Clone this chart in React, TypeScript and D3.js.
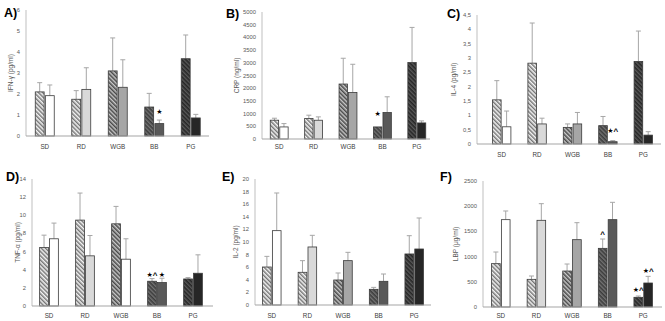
import React from 'react';
import * as d3 from 'd3';

const categories = ['SD', 'RD', 'WGB', 'BB', 'PG'];

// A) IFN-γ
const ifnHatch = [2.1, 1.75, 3.1, 1.38, 3.68];
const ifnHatchSd = [0.44, 0.41, 1.57, 0.65, 1.13];
const ifnSolid = [1.92, 2.22, 2.32, 0.59, 0.86];
const ifnSolidSd = [0.51, 1.03, 1.31, 0.17, 0.17];

// B) CRP
const crpHatch = [740, 805, 2164, 475, 3008];
const crpHatchSd = [78, 132, 1015, 0, 1385];
const crpSolid = [475, 739, 1834, 1042, 633];
const crpSolidSd = [132, 132, 1108, 620, 79];

// C) IL-4
const il4Hatch = [1.54, 2.82, 0.58, 0.64, 2.88];
const il4HatchSd = [0.67, 1.4, 0.12, 0.32, 1.06];
const il4Solid = [0.6, 0.7, 0.7, 0.08, 0.31];
const il4SolidSd = [0.55, 0.2, 0.4, 0.04, 0.12];

// D) TNF-α
const tnfHatch = [6.45, 9.47, 9.06, 2.73, 2.98];
const tnfHatchSd = [1.36, 2.98, 1.92, 0.29, 0.15];
const tnfSolid = [7.41, 5.53, 5.16, 2.58, 3.61];
const tnfSolidSd = [1.73, 2.24, 2.25, 0.48, 2.03];

// E) IL-2
const il2Hatch = [6.03, 5.19, 3.97, 2.49, 8.1];
const il2HatchSd = [1.69, 1.85, 1.11, 0.31, 2.9];
const il2Solid = [11.8, 9.21, 7.04, 3.76, 8.89];
const il2SolidSd = [5.98, 1.85, 1.32, 1.16, 4.92];

// F) LBP
const lbpHatch = [860, 549, 714, 1164, 192];
const lbpHatchSd = [231, 66, 139, 185, 26];
const lbpSolid = [1733, 1720, 1336, 1733, 476];
const lbpSolidSd = [172, 330, 337, 344, 132];

// significance marks: [category, series (0 hatched / 1 solid), stars, carets, y value]
const ifnMarks: [string, number, string, string, number][] = [['BB', 1, '★', '', 1.32]];
const crpMarks: [string, number, string, string, number][] = [['BB', 0, '★', '', 1135]];
const il4Marks: [string, number, string, string, number][] = [['BB', 1, '★', '^', 0.58]];
const tnfMarks: [string, number, string, string, number][] = [['BB', 0, '★', '^', 3.8], ['BB', 1, '★', '', 3.8]];
const il2Marks: [string, number, string, string, number][] = [];
const lbpMarks: [string, number, string, string, number][] = [['BB', 0, '', '^', 1420], ['PG', 0, '★', '^', 410], ['PG', 1, '★', '^', 794]];

const hatchIds = ['hLight', 'hLight', 'hMed', 'hDark', 'hDarkest'];
const solidFill = ['#ffffff', '#d9d9d9', '#a6a6a6', '#595959', '#262626'];
const solidFillTnf = ['#ffffff', '#d9d9d9', '#ffffff', '#595959', '#262626'];

const FONT = '"Liberation Sans", Arial, sans-serif';

const panels = [
  { tag: 'A)', tagX: 4, tagY: 17, yLabel: 'IFN-γ (pg/ml)', labX: 13, max: 6, step: 1, comma: false,
    axisX: 26, axisEnd: 209, band: [26.5, 209], yTop: 10, yZero: 136, catY: 147,
    hatch: ifnHatch, hatchSd: ifnHatchSd, solid: ifnSolid, solidSd: ifnSolidSd, fills: solidFill, marks: ifnMarks },
  { tag: 'B)', tagX: 226, tagY: 18, yLabel: 'CRP (ng/ml)', labX: 239, max: 5000, step: 500, comma: false,
    axisX: 262, axisEnd: 430, band: [262, 434], yTop: 12, yZero: 139, catY: 147,
    hatch: crpHatch, hatchSd: crpHatchSd, solid: crpSolid, solidSd: crpSolidSd, fills: solidFill, marks: crpMarks },
  { tag: 'C)', tagX: 447, tagY: 18, yLabel: 'IL-4 (pg/ml)', labX: 456, max: 4.5, step: 0.5, comma: true,
    axisX: 477, axisEnd: 661, band: [484, 661], yTop: 15, yZero: 144, catY: 155,
    hatch: il4Hatch, hatchSd: il4HatchSd, solid: il4Solid, solidSd: il4SolidSd, fills: solidFill, marks: il4Marks },
  { tag: 'D)', tagX: 6, tagY: 181, yLabel: 'TNF-α (pg/ml)', labX: 20, max: 14, step: 2, comma: false,
    axisX: 32, axisEnd: 213, band: [31, 211], yTop: 179, yZero: 306, catY: 316,
    hatch: tnfHatch, hatchSd: tnfHatchSd, solid: tnfSolid, solidSd: tnfSolidSd, fills: solidFillTnf, marks: tnfMarks },
  { tag: 'E)', tagX: 222, tagY: 181, yLabel: 'IL-2 (pg/ml)', labX: 238, max: 20, step: 2, comma: false,
    axisX: 255, axisEnd: 431, band: [254, 432], yTop: 179, yZero: 305, catY: 316,
    hatch: il2Hatch, hatchSd: il2HatchSd, solid: il2Solid, solidSd: il2SolidSd, fills: solidFill, marks: il2Marks },
  { tag: 'F)', tagX: 440, tagY: 181, yLabel: 'LBP (μg/ml)', labX: 458, max: 2500, step: 500, comma: false,
    axisX: 483, axisEnd: 662, band: [483, 661], yTop: 181, yZero: 307, catY: 316,
    hatch: lbpHatch, hatchSd: lbpHatchSd, solid: lbpSolid, solidSd: lbpSolidSd, fills: solidFill, marks: lbpMarks },
];

function Panel({ p }: { p: any }) {
  const x = d3.scaleBand().domain(categories).range(p.band);
  const pairW = x.bandwidth() * 0.52;
  const inner = d3.scaleBand().domain(['0', '1']).range([-pairW / 2, pairW / 2]).paddingInner(0.12);
  const y = d3.scaleLinear().domain([0, p.max]).range([p.yZero, p.yTop]);
  const ticks = d3.range(0, p.max + p.step / 2, p.step);
  const fmt = (v: number) => {
    const s = d3.format('~g')(+v.toFixed(2));
    return p.comma ? s.replace('.', ',') : s;
  };
  const cx = (c: string) => (x(c) as number) + x.bandwidth() / 2;
  const barX = (c: string, s: number) => cx(c) + (inner(String(s)) as number);
  const bw = inner.bandwidth();
  const midY = (p.yZero + p.yTop) / 2;

  const bars: any[] = [];
  categories.forEach((c, i) => {
    [0, 1].forEach((s) => {
      const v = s === 0 ? p.hatch[i] : p.solid[i];
      const sd = s === 0 ? p.hatchSd[i] : p.solidSd[i];
      const bx = barX(c, s);
      const fill = s === 0 ? `url(#${hatchIds[i]})` : p.fills[i];
      const ex = bx + bw / 2;
      bars.push(
        <g key={c + s}>
          {sd > 0 && (
            <g stroke="#a6a6a6" strokeWidth={1}>
              <line x1={ex} x2={ex} y1={y(v)} y2={y(v + sd)} />
              <line x1={ex - 2.5} x2={ex + 2.5} y1={y(v + sd)} y2={y(v + sd)} />
            </g>
          )}
          <rect x={bx} y={y(v)} width={bw} height={p.yZero - y(v)} fill={fill} stroke="#3a3a3a" strokeWidth={0.8} />
        </g>
      );
    });
  });

  return (
    <g fontFamily={FONT}>
      <text x={p.tagX} y={p.tagY} fontSize={12.5} fontWeight="bold" fill="#000">{p.tag}</text>
      <text transform={`translate(${p.labX},${midY}) rotate(-90)`} textAnchor="middle" fontSize={6.5} fill="#595959">
        {p.yLabel}
      </text>
      {ticks.map((t: number) => (
        <text key={t} x={p.axisX - 6} y={y(t)} dy="0.35em" textAnchor="end" fontSize={5.8} fill="#595959">
          {fmt(t)}
        </text>
      ))}
      <line x1={p.axisX} x2={p.axisX} y1={p.yZero} y2={p.yTop} stroke="#bfbfbf" strokeWidth={1} />
      {bars}
      <line x1={p.axisX} x2={p.axisEnd} y1={p.yZero} y2={p.yZero} stroke="#a6a6a6" strokeWidth={1.2} />
      {categories.map((c) => (
        <text key={c} x={cx(c)} y={p.catY} dy="0.35em" textAnchor="middle" fontSize={6.3} fill="#404040">
          {c}
        </text>
      ))}
      {p.marks.map((m: any, k: number) => (
        <text key={k} x={barX(m[0], m[1]) + bw / 2} y={y(m[4])} dy="0.35em" textAnchor="middle" fill="#000">
          {m[2] && <tspan fontSize={7} fontFamily='"DejaVu Sans", sans-serif'>{m[2]}</tspan>}
          {m[3] && <tspan fontSize={8} fontWeight="bold" fontFamily={FONT} dy="0.15em">{m[3]}</tspan>}
        </text>
      ))}
    </g>
  );
}

export default function App() {
  return (
    <svg width={665} height={321} style={{ position: 'absolute', left: 0, top: 0, background: '#fff' }}>
      <defs>
        <pattern id="hLight" patternUnits="userSpaceOnUse" width={3} height={3} patternTransform="rotate(-45)">
          <rect width={3} height={3} fill="#f4f4f4" />
          <line x1={0.8} x2={0.8} y1={0} y2={3} stroke="#4a4a4a" strokeWidth={1.1} />
        </pattern>
        <pattern id="hMed" patternUnits="userSpaceOnUse" width={3} height={3} patternTransform="rotate(-45)">
          <rect width={3} height={3} fill="#c8c8c8" />
          <line x1={0.8} x2={0.8} y1={0} y2={3} stroke="#333" strokeWidth={1.3} />
        </pattern>
        <pattern id="hDark" patternUnits="userSpaceOnUse" width={3} height={3} patternTransform="rotate(-45)">
          <rect width={3} height={3} fill="#3c3c3c" />
          <line x1={0.8} x2={0.8} y1={0} y2={3} stroke="#8c8c8c" strokeWidth={1} />
        </pattern>
        <pattern id="hDarkest" patternUnits="userSpaceOnUse" width={3} height={3} patternTransform="rotate(-45)">
          <rect width={3} height={3} fill="#262626" />
          <line x1={0.8} x2={0.8} y1={0} y2={3} stroke="#6e6e6e" strokeWidth={1} />
        </pattern>
      </defs>
      <rect width={665} height={321} fill="#fff" />
      {panels.map((p) => (
        <Panel key={p.tag} p={p} />
      ))}
    </svg>
  );
}
